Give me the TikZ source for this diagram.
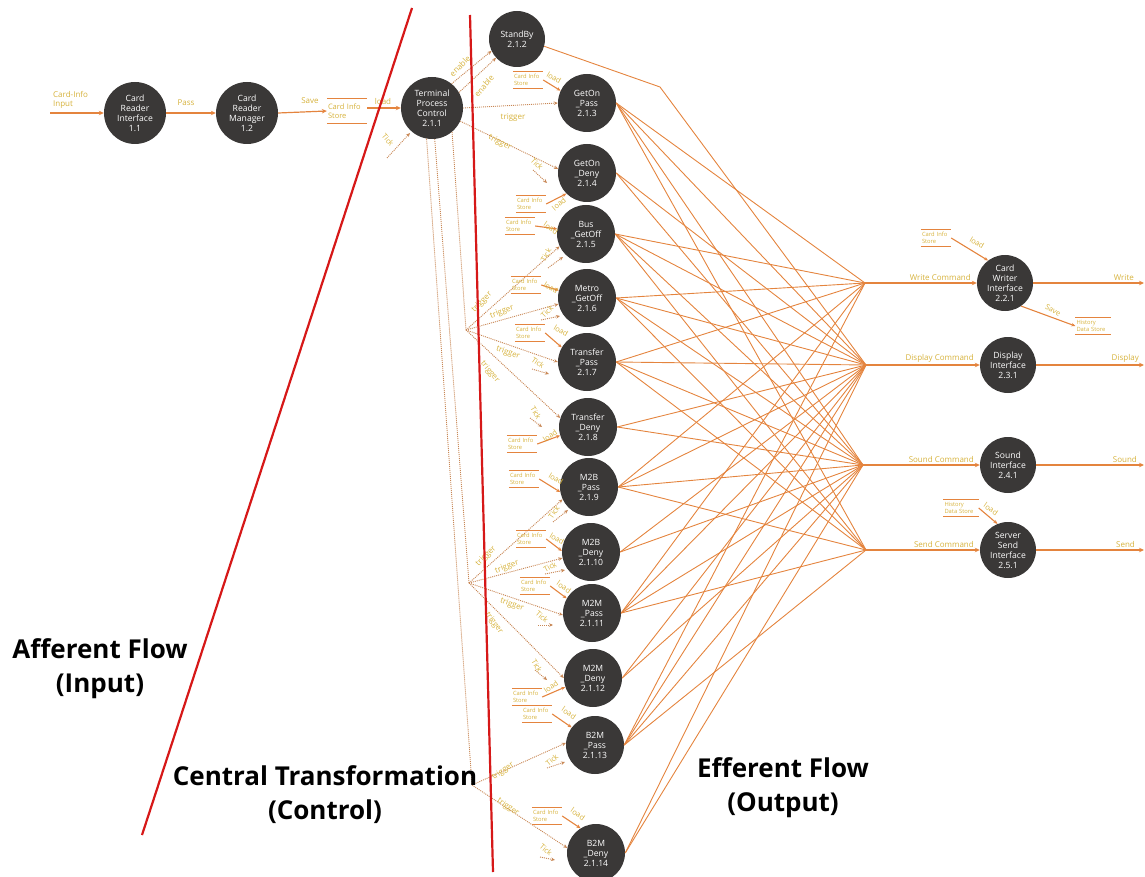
\documentclass[tikz,border=0pt]{standalone}
\usepackage{fontspec}
\setmainfont{Open Sans}
\usetikzlibrary{arrows.meta}
\definecolor{nodefill}{RGB}{58,56,55}
\definecolor{flow}{RGB}{228,132,62}
\definecolor{dotc}{RGB}{200,135,85}
\definecolor{lbl}{RGB}{214,178,60}
\definecolor{redline}{RGB}{214,24,24}
\tikzset{
 proc/.style={circle, fill=nodefill, text=white, font=\fontsize{8.6}{10}\selectfont, align=center, minimum size=58pt, inner sep=0pt},
 bigproc/.style={proc, minimum size=62pt},
 outproc/.style={proc, minimum size=56pt},
 flowarrow/.style={draw=flow, line width=1.2pt, -{Stealth[length=5pt,width=4.5pt]}},
 fanline/.style={draw=flow, line width=0.9pt},
 dotarrow/.style={draw=dotc, line width=0.9pt, dash pattern=on 1pt off 1pt, -{Stealth[length=4pt,width=3.5pt]}},
 dotline/.style={draw=dotc, line width=0.9pt, dash pattern=on 1pt off 1pt},
 loadarrow/.style={draw=flow, line width=1.1pt, -{Stealth[length=4pt,width=3.5pt]}},
 lab/.style={text=lbl, font=\fontsize{8}{9}\selectfont, inner sep=0pt},
 small/.style={text=lbl, font=\fontsize{7.5}{8.5}\selectfont, inner sep=0pt},
 storeline/.style={draw=flow, line width=1.2pt, -},
 store/.style={text=lbl, font=\fontsize{5.8}{6.8}\selectfont, align=left, inner xsep=1pt, inner ysep=0pt, minimum height=17pt, text width=28pt,
   append after command={(\tikzlastnode.north west) edge[storeline] (\tikzlastnode.north east)
                         (\tikzlastnode.south west) edge[storeline] (\tikzlastnode.south east)}},
 histstore/.style={store, text width=33pt},
 big/.style={font=\fontsize{26}{34}\selectfont\bfseries, align=center, text=black},
 redl/.style={draw=redline, line width=2.2pt},
}
\begin{document}
\begin{tikzpicture}[x=1pt,y=-1pt]
\useasboundingbox (0,0) rectangle (1145,877);

% ---------- process nodes ----------
\node[bigproc] (n11) at (135,113) {Card\\Reader\\Interface\\1.1};
\node[bigproc] (n12) at (247,113) {Card\\Reader\\Manager\\1.2};
\node[bigproc] (tpc) at (432,108) {Terminal\\Process\\Control\\2.1.1};
\node[proc, minimum size=56pt] (sb) at (517,39) {StandBy\\2.1.2};
\node[proc] (p3) at (587,103) {GetOn\\\_Pass\\2.1.3};
\node[proc] (p4) at (587,173) {GetOn\\\_Deny\\2.1.4};
\node[proc] (p5) at (586,234) {Bus\\\_GetOff\\2.1.5};
\node[proc] (p6) at (587,298) {Metro\\\_GetOff\\2.1.6};
\node[proc] (p7) at (587,362) {Transfer\\\_Pass\\2.1.7};
\node[proc] (p8) at (588,427) {Transfer\\\_Deny\\2.1.8};
\node[proc] (p9) at (589,487) {M2B\\\_Pass\\2.1.9};
\node[proc] (p10) at (591,552) {M2B\\\_Deny\\2.1.10};
\node[proc] (p11) at (592,613) {M2M\\\_Pass\\2.1.11};
\node[proc] (p12) at (593,678) {M2M\\\_Deny\\2.1.12};
\node[proc] (p13) at (595,745) {B2M\\\_Pass\\2.1.13};
\node[proc] (p14) at (596,853) {B2M\\\_Deny\\2.1.14};
\node[outproc] (cw) at (1005,283) {Card\\Writer\\Interface\\2.2.1};
\node[outproc] (di) at (1008,365) {Display\\Interface\\2.3.1};
\node[outproc] (si) at (1008,465) {Sound\\Interface\\2.4.1};
\node[outproc] (ss) at (1008,550) {Server\\Send\\Interface\\2.5.1};

% ---------- convergence points ----------
\coordinate (cwin) at (865,283);
\coordinate (dpin) at (866,365);
\coordinate (sdin) at (863,465);
\coordinate (snin) at (866,550);
\coordinate (sbbend) at (660,87);

% ---------- fan lines ----------
\foreach \n in {3,5,6,7,9,11,13}
  \foreach \c in {cwin,dpin,sdin,snin}
    \draw[fanline] (p\n.east) -- (\c);
\foreach \n in {4,8,10,12,14}
  \foreach \c in {dpin,sdin}
    \draw[fanline] (p\n.east) -- (\c);
\draw[fanline] (sb.-15) -- (sbbend) -- (dpin);

% ---------- input chain ----------
\coordinate (cin) at (50,113);
\draw[flowarrow] (cin) -- (n11.west);
\node[lab, align=left, anchor=south west] (cinl) at (53,109) {Card-Info\\Input};
\draw[flowarrow] (n11.east) -- (n12.west);
\node[lab] (passl) at (186,103) {Pass};
\node[store, text width=38pt, minimum height=24pt, font=\fontsize{7.5}{9}\selectfont] (s0) at (347,111) {Card Info\\Store};
\draw[flowarrow] (n12.east) -- (s0.west);
\node[lab] (savel) at (310,101) {Save};
\draw[flowarrow] (s0.east |- tpc.west) -- (tpc.west);
\node[lab] (l0) at (383,102) {load};
\coordinate (tka) at (387,158);
\coordinate (tkb) at (410,133);
\draw[dotarrow] (tka) -- (tkb);
\node[small, rotate=-50] (tkl) at (388,140) {Tick};

% ---------- controls from 2.1.1 ----------
\draw[dotarrow] (tpc.51) -- (sb.205);
\draw[dotarrow] (tpc.30) -- (sb.222);
\node[lab, rotate=45] (en1) at (460,66) {enable};
\node[lab, rotate=50] (en2) at (484,86) {enable};
\draw[dotarrow] (tpc.east) -- (p3.180);
\node[lab] (g3) at (513,118) {trigger};
\draw[dotarrow] (tpc.-25) -- (p4.172);
\node[lab, rotate=-28] (g4) at (500,143) {trigger};

\coordinate (hubA) at (466,330);
\coordinate (hubB) at (469,583);
\coordinate (hubC) at (472,785);
\draw[dotline] (tpc.-50) -- (hubA);
\draw[dotline] (tpc.-85) -- (hubB);
\draw[dotline] (tpc.-100) -- (hubC);

\foreach \n/\h/\ea/\tx/\ty/\tr in {
  5/hubA/205/482/302/45, 6/hubA/192/502/312/20, 7/hubA/180/508/353/-20, 8/hubA/162/490/372/-50,
  9/hubB/205/486/556/45, 10/hubB/192/507/567/20, 11/hubB/184/512/605/-20, 12/hubB/180/494/623/-55,
  13/hubC/176/503/771/35, 14/hubC/170/508/807/-35}
{
  \draw[dotarrow] (\h) -- (p\n.\ea);
  \node[lab, rotate=\tr] (g\n) at (\tx,\ty) {trigger};
}

% ---------- stores and load arrows ----------
\foreach \n/\sx/\sy/\la/\lx/\ly/\lr in {
  3/528/80/155/554/78/-30, 4/531/204/225/559/204/40, 5/520/226/170/551/228/-35,
  6/526/285/165/551/288/-30, 7/530/333/150/561/331/-30, 8/522/444/197/550/436/35,
  9/524/479/190/556/479/-30, 10/531/539/178/557/539/-30, 11/535/586/150/564/587/-35,
  12/527/697/198/551/687/35, 13/537/714/143/569/713/-35, 14/547/816/122/578/814/-35}
{
  \node[store] (s\n) at (\sx,\sy) {Card Info\\Store};
  \draw[loadarrow] (s\n.east) -- (p\n.\la);
  \node[small, rotate=\lr] (ll\n) at (\lx,\ly) {load};
}

% ---------- tick arrows ----------
\foreach \n/\ax/\ay/\bx/\by/\tx/\ty/\tr in {
  4/533/170/547/183/537/164/-45, 5/548/268/563/257/546/255/60, 6/541/320/560/316/547/312/45,
  7/532/369/549/374/538/363/-35, 8/530/418/542/427/536/413/-60, 9/553/522/568/510/554/512/55,
  10/545/574/565/570/550/567/30, 11/538/625/553/625/542/617/-40, 12/535/670/547/680/537/666/-60,
  13/547/768/565/762/552/760/40, 14/540/857/555/860/546/850/-40}
{
  \coordinate (ta\n) at (\ax,\ay);
  \coordinate (tb\n) at (\bx,\by);
  \draw[dotarrow] (ta\n) -- (tb\n);
  \node[small, rotate=\tr] (tl\n) at (\tx,\ty) {Tick};
}

% ---------- efferent outputs ----------
\draw[flowarrow] (cwin) -- (cw.west);
\node[lab, anchor=south east] (wcl) at (971,281) {Write Command};
\draw[flowarrow] (dpin) -- (di.west);
\node[lab, anchor=south east] (dcl) at (974,363) {Display Command};
\draw[flowarrow] (sdin) -- (si.west);
\node[lab, anchor=south east] (scl) at (974,463) {Sound Command};
\draw[flowarrow] (snin) -- (ss.west);
\node[lab, anchor=south east] (ncl) at (974,548) {Send Command};

\coordinate (wout) at (1144,283);
\coordinate (dout) at (1144,365);
\coordinate (sout) at (1144,465);
\coordinate (nout) at (1144,550);
\draw[flowarrow] (cw.east) -- (wout);
\node[lab, anchor=south east] (wl) at (1134,281) {Write};
\draw[flowarrow] (di.east) -- (dout);
\node[lab, anchor=south east] (dl) at (1139,363) {Display};
\draw[flowarrow] (si.east) -- (sout);
\node[lab, anchor=south east] (sl) at (1137,463) {Sound};
\draw[flowarrow] (ss.east) -- (nout);
\node[lab, anchor=south east] (nl) at (1135,548) {Send};

\node[store] (sw) at (936,238) {Card Info\\Store};
\draw[loadarrow] (sw.east) -- (cw.127);
\node[small, rotate=-30] (lw) at (977,243) {load};
\node[histstore] (hw) at (1093,326) {History\\Data Store};
\draw[loadarrow] (cw.-55) -- (hw.west);
\node[small, rotate=-30] (svw) at (1053,310) {Save};
\node[histstore] (hs) at (961,508) {History\\Data Store};
\draw[loadarrow] (hs.east) -- (ss.112);
\node[small, rotate=-35] (ls) at (991,509) {load};

% ---------- boundaries ----------
\coordinate (r1a) at (412,8);
\coordinate (r1b) at (142,835);
\coordinate (r2a) at (470,15);
\coordinate (r2b) at (493,872);
\draw[redl] (r1a) -- (r1b);
\draw[redl] (r2a) -- (r2b);

% ---------- region titles ----------
\node[big] (aff) at (100,669) {Afferent Flow\\(Input)};
\node[big] (cen) at (325,795) {Central Transformation\\(Control)};
\node[big] (eff) at (783,788) {Efferent Flow\\(Output)};
\end{tikzpicture}
\end{document}
